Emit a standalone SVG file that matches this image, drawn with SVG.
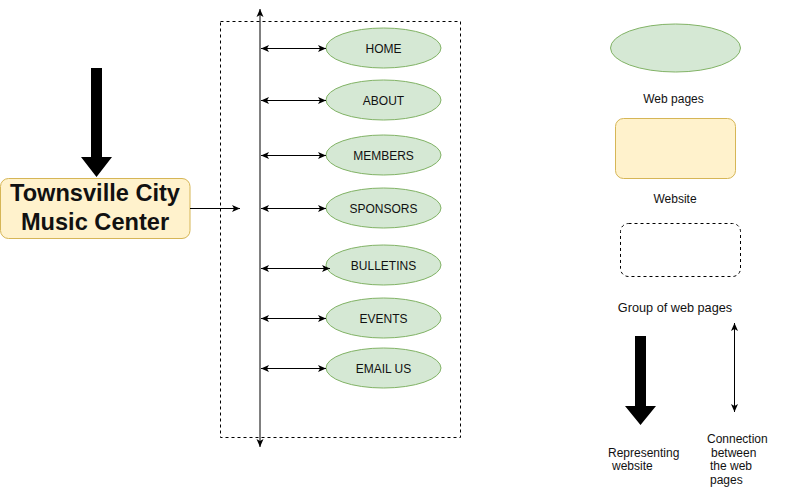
<svg xmlns="http://www.w3.org/2000/svg" width="786" height="489" viewBox="0 0 786 489">
<defs>
<marker id="ah" viewBox="0 0 8 8" refX="8" refY="4" markerWidth="8" markerHeight="8" markerUnits="userSpaceOnUse" orient="auto-start-reverse">
<path d="M0,0.5 L8,4 L0,7.5 L2,4 z" fill="#000"/>
</marker>
</defs>
<style>
text{font-family:"Liberation Sans",Arial,sans-serif;fill:#111}
.page{fill:#d5e8d4;stroke:#82b366;stroke-width:1}
.site{fill:#fff2cc;stroke:#d6b656;stroke-width:1}
.grp{fill:none;stroke:#000;stroke-width:1;stroke-dasharray:3 3}
.lbl{font-size:12px;text-anchor:middle}
.conn{stroke:#000;stroke-width:1;fill:none}
.big{fill:#000}
</style>
<rect width="786" height="489" fill="#fff"/>

<g id="group-box"><rect class="grp" x="220.5" y="21.5" width="240" height="416"/></g>

<g id="website-arrow"><path class="big" d="M91,68 L102,68 L102,157 L112,157 L96.5,177 L81,157 L91,157 Z"/></g>

<g id="website">
<rect class="site" x="0.5" y="178.5" width="189.5" height="60" rx="8" ry="8"/>
<text x="95" y="201" font-size="23.6" font-weight="bold" text-anchor="middle">Townsville City</text>
<text x="95" y="230" font-size="23.6" font-weight="bold" text-anchor="middle">Music Center</text>
</g>

<g id="page-home"><ellipse class="page" cx="383.5" cy="48" rx="57.5" ry="20"/><text class="lbl" x="383.5" y="52.5">HOME</text></g>
<g id="page-about"><ellipse class="page" cx="383.5" cy="100" rx="57.5" ry="20"/><text class="lbl" x="383.5" y="104.5">ABOUT</text></g>
<g id="page-members"><ellipse class="page" cx="383.5" cy="155" rx="57.5" ry="20"/><text class="lbl" x="383.5" y="159.5">MEMBERS</text></g>
<g id="page-sponsors"><ellipse class="page" cx="383.5" cy="208" rx="57.5" ry="20"/><text class="lbl" x="383.5" y="212.5">SPONSORS</text></g>
<g id="page-bulletins"><ellipse class="page" cx="383.5" cy="265" rx="57.5" ry="20"/><text class="lbl" x="383.5" y="269.5">BULLETINS</text></g>
<g id="page-events"><ellipse class="page" cx="383.5" cy="318" rx="57.5" ry="20"/><text class="lbl" x="383.5" y="322.5">EVENTS</text></g>
<g id="page-email"><ellipse class="page" cx="383.5" cy="368" rx="57.5" ry="20"/><text class="lbl" x="383.5" y="372.5">EMAIL US</text></g>

<g id="connectors">
<line class="conn" x1="260" y1="447" x2="260" y2="9" marker-start="url(#ah)" marker-end="url(#ah)"/>
<line class="conn" x1="190" y1="208.5" x2="240" y2="208.5" marker-end="url(#ah)"/>
<line class="conn" x1="261" y1="48.5" x2="326" y2="48.5" marker-start="url(#ah)" marker-end="url(#ah)"/>
<line class="conn" x1="261" y1="100.5" x2="326" y2="100.5" marker-start="url(#ah)" marker-end="url(#ah)"/>
<line class="conn" x1="261" y1="155.5" x2="326" y2="155.5" marker-start="url(#ah)" marker-end="url(#ah)"/>
<line class="conn" x1="261" y1="208.5" x2="326" y2="208.5" marker-start="url(#ah)" marker-end="url(#ah)"/>
<line class="conn" x1="261" y1="268.5" x2="330" y2="268.5" marker-start="url(#ah)" marker-end="url(#ah)"/>
<line class="conn" x1="261" y1="318.5" x2="326" y2="318.5" marker-start="url(#ah)" marker-end="url(#ah)"/>
<line class="conn" x1="261" y1="368.5" x2="326" y2="368.5" marker-start="url(#ah)" marker-end="url(#ah)"/>
</g>

<g id="legend-page"><ellipse class="page" cx="675.5" cy="48" rx="65" ry="24"/><text class="lbl" x="673.5" y="103" font-size="12.3">Web pages</text></g>
<g id="legend-site"><rect class="site" x="615.5" y="118.5" width="120" height="60" rx="8" ry="8"/><text class="lbl" x="675" y="203" font-size="12.3">Website</text></g>
<g id="legend-group"><rect class="grp" x="620.5" y="223.5" width="120" height="53" rx="8" ry="8"/><text x="675" y="312.3" font-size="12.7" text-anchor="middle">Group of web pages</text></g>
<g id="legend-arrow"><path class="big" d="M635,336 L646,336 L646,406 L656,406 L640.5,425 L625,406 L635,406 Z"/>
<text font-size="12" x="608" y="457">Representing</text><text font-size="12" x="612" y="470">website</text></g>
<g id="legend-conn"><line class="conn" x1="734.5" y1="412" x2="734.5" y2="323" marker-start="url(#ah)" marker-end="url(#ah)"/>
<text font-size="12" x="707" y="443">Connection</text><text font-size="12" x="711" y="456.5">between</text><text font-size="12" x="710" y="470">the web</text><text font-size="12" x="710" y="483.5">pages</text></g>
</svg>
